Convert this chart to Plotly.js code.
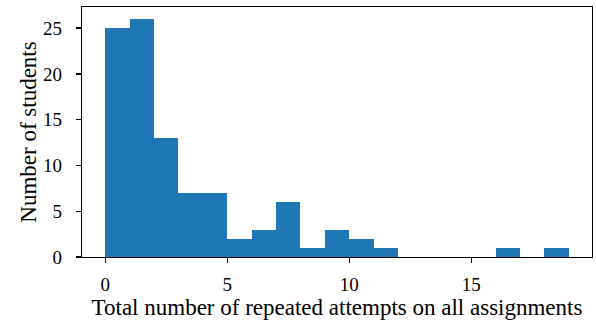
<!DOCTYPE html>
<html><head>
<script src="https://cdn.plot.ly/plotly-3.0.1.min.js"></script>
<style>html,body{margin:0;padding:0;background:#fff;}</style>
</head><body>
<div id="chart" style="width:596px;height:322px;"></div>
<script>
const binCenters = [0.5,1.5,2.5,3.5,4.5,5.5,6.5,7.5,8.5,9.5,10.5,11.5,12.5,13.5,14.5,15.5,16.5,17.5,18.5];
const counts = [25,26,13,7,7,2,3,6,1,3,2,1,0,0,0,0,1,0,1];
const xTicks = [0,5,10,15];
const yTicks = [0,5,10,15,20,25];
const xTitle = "Total number of repeated attempts on all assignments";
const yTitle = "Number of students";

const tickFont = {family: "Liberation Serif, serif", size: 19, color: "#000"};
const titleFont = {family: "Liberation Serif, serif", size: 23, color: "#000"};
Plotly.newPlot("chart", [{
  type: "bar", x: binCenters, y: counts, width: 1,
  marker: {color: "#1f77b4", line: {width: 0}}, hoverinfo: "none"
}], {
  width: 596, height: 322,
  margin: {l: 82, r: 4, t: 7, b: 65},
  paper_bgcolor: "#fff", plot_bgcolor: "#fff",
  font: tickFont, showlegend: false, bargap: 0,
  xaxis: {
    range: [-0.95, 19.95], tickvals: xTicks, ticktext: xTicks.map(String),
    ticks: "outside", ticklen: 5, tickwidth: 1.3, tickcolor: "#000",
    showline: true, linecolor: "#000", linewidth: 1.3, mirror: true,
    showgrid: false, zeroline: false, tickfont: tickFont, ticklabelstandoff: 5,
    title: {text: xTitle, font: titleFont, standoff: 2}
  },
  yaxis: {
    range: [0, 27.3], tickvals: yTicks, ticktext: yTicks.map(String),
    ticks: "outside", ticklen: 5, tickwidth: 1.3, tickcolor: "#000",
    showline: true, linecolor: "#000", linewidth: 1.3, mirror: true,
    showgrid: false, zeroline: false, tickfont: tickFont, ticklabelstandoff: 10,
    title: {text: yTitle, font: titleFont, standoff: 0}
  }
}, {staticPlot: true, displayModeBar: false});
</script>
</body></html>
